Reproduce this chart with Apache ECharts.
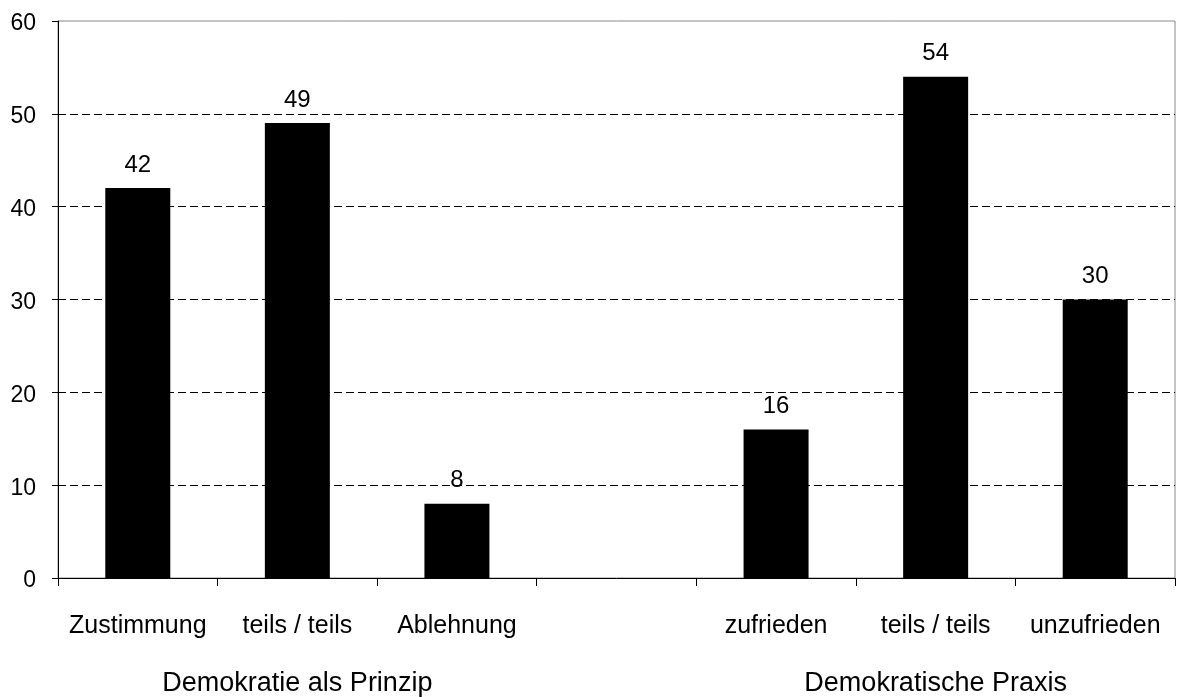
<!DOCTYPE html>
<html><head><meta charset="utf-8">
<script src="https://cdn.jsdelivr.net/npm/echarts@6/dist/echarts.min.js"></script>
<style>html,body{margin:0;padding:0;background:#fff}#c{width:1178px;height:697px}</style>
</head><body><div id="c"></div>
<script>
const categories = ['Zustimmung', 'teils / teils', 'Ablehnung', '', 'zufrieden', 'teils / teils', 'unzufrieden'];
const values = [42, 49, 8, '-', 16, 54, 30];
const groupLabels = ['', 'Demokratie als Prinzip', '', '', '', 'Demokratische Praxis', ''];
const yTicks = { min: 0, max: 60, interval: 10 };

const chart = echarts.init(document.getElementById('c'), null, { renderer: 'canvas' });
const font = '"Liberation Sans", Arial, sans-serif';
chart.setOption({
  animation: false,
  backgroundColor: '#fff',
  grid: { left: 58, right: 3, top: 21, bottom: 119, show: true, borderColor: '#888', borderWidth: 1, backgroundColor: 'transparent' },
  xAxis: [{
    type: 'category', data: categories, position: 'bottom',
    axisLine: { lineStyle: { color: '#000', width: 1 } },
    axisTick: { show: true, length: 8, lineStyle: { color: '#000' } },
    axisLabel: { color: '#000', fontFamily: font, fontSize: 25, margin: 36, interval: 0 }
  }, {
    type: 'category', data: groupLabels, position: 'bottom',
    axisLine: { show: false }, axisTick: { show: false },
    axisLabel: { color: '#000', fontFamily: font, fontSize: 27, margin: 92, interval: 0 }
  }],
  yAxis: {
    type: 'value', min: yTicks.min, max: yTicks.max, interval: yTicks.interval,
    axisLine: { show: true, lineStyle: { color: '#000' } },
    axisTick: { show: true, length: 6, lineStyle: { color: '#000' } },
    axisLabel: { color: '#000', fontFamily: font, fontSize: 23, margin: 22, verticalAlign: 'top', lineHeight: 6 },
    splitLine: { show: true, lineStyle: { color: ['transparent', '#000', '#000', '#000', '#000', '#000', 'transparent'], type: [8, 4], width: 1 } }
  },
  series: [{
    type: 'bar', data: values, xAxisIndex: 0, barWidth: 65,
    itemStyle: { color: '#000' },
    label: { show: true, position: 'top', distance: 11, color: '#000', fontFamily: font, fontSize: 24 }
  }]
});
</script></body></html>
